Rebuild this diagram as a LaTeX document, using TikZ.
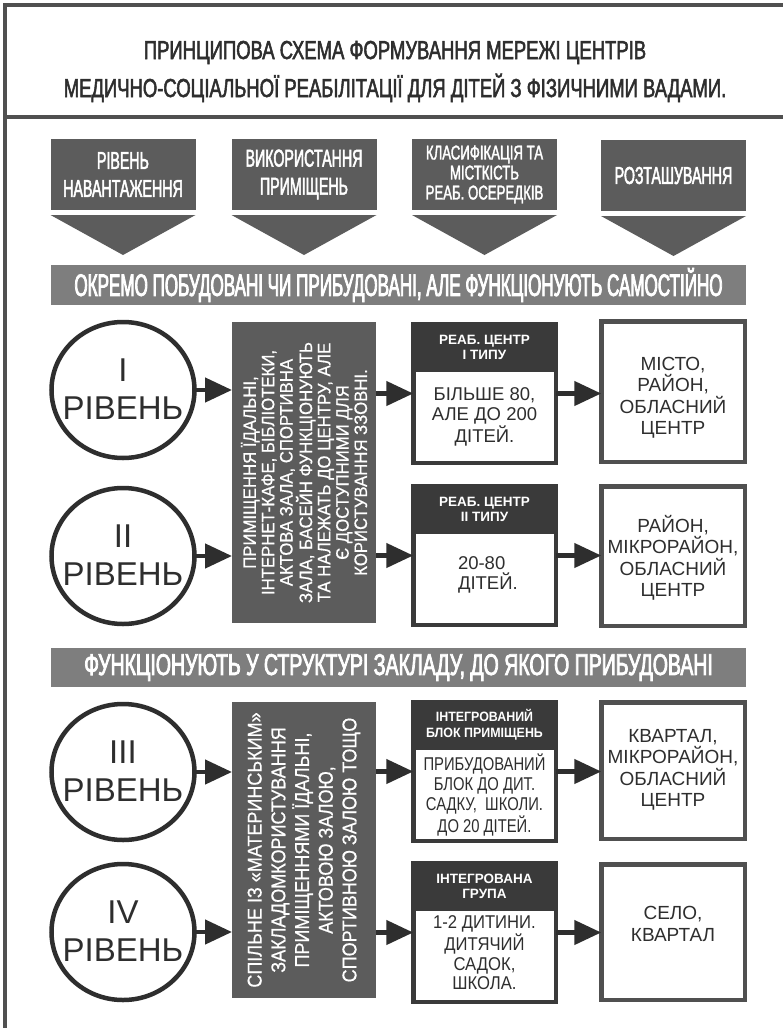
\documentclass[tikz,border=0pt]{standalone}
\usepackage{fontspec}
\setmainfont{Liberation Sans}
\usetikzlibrary{arrows.meta,shapes.geometric}
\definecolor{framec}{HTML}{505050}
\definecolor{hdrc}{HTML}{5C5C5C}
\definecolor{bandc}{HTML}{7E7E7E}
\definecolor{darkc}{HTML}{3A3A3A}
\definecolor{inkc}{HTML}{2E2E2E}
\definecolor{locc}{HTML}{505050}
\begin{document}
\begin{tikzpicture}[x=1pt,y=-1pt,
  every node/.style={inner sep=0pt,outer sep=0pt},
  titletext/.style={text=inkc,anchor=base,font=\fontsize{26}{30}\selectfont\addfontfeature{FakeStretch=0.71,FakeBold=2}},
  hdrbox/.style={fill=hdrc,text=white,minimum width=145,minimum height=71,align=center,
    font=\fontsize{24.5}{28}\selectfont\addfontfeature{FakeStretch=0.58,FakeBold=2}},
  bandbox/.style={fill=bandc,text=white,minimum width=695,minimum height=40},
  lvl/.style={ellipse,draw=inkc,line width=4.5pt,fill=white,minimum width=143,minimum height=136},
  lvltext/.style={align=center,text=inkc,font=\fontsize{33}{38}\selectfont},
  usebox/.style={fill=hdrc,text=white,rotate=90,minimum height=144,align=center},
  typebox/.style={draw=darkc,line width=4.5pt,fill=white,minimum width=142.5},
  typehead/.style={fill=darkc,text=white,minimum width=147,minimum height=50,anchor=north,align=center,
    font=\bfseries\fontsize{13.5}{15}\selectfont},
  typebody/.style={text=inkc,align=center,font=\fontsize{18.5}{20}\selectfont},
  locbox/.style={draw=locc,line width=4.5pt,fill=white,minimum width=143.5},
  loctext/.style={text=inkc,align=center,font=\fontsize{19}{21.5}\selectfont},
  arr/.style={draw=inkc,line width=4.5pt,-{Triangle[length=27pt,width=24pt]}}
]
\useasboundingbox (0,0) rectangle (783,1028);
\fill[white] (0,0) rectangle (783,1028);
% frame
\draw[framec,line width=4pt,line join=miter] (5,1030) -- (5,5) -- (785,5);
\draw[framec,line width=4pt] (5,117) -- (785,117);
% title
\node[titletext] (title1) at (395,59) {ПРИНЦИПОВА СХЕМА ФОРМУВАННЯ МЕРЕЖІ ЦЕНТРІВ};
\node[titletext] (title2) at (395,97) {МЕДИЧНО-СОЦІАЛЬНОЇ РЕАБІЛІТАЦІЇ ДЛЯ ДІТЕЙ З ФІЗИЧНИМИ ВАДАМИ.};
% column headers
\node[hdrbox] (h1) at (123,174.5) {РІВЕНЬ\\НАВАНТАЖЕННЯ};
\node[hdrbox] (h2) at (304,174.5) {ВИКОРИСТАННЯ\\ПРИМІЩЕНЬ};
\node[hdrbox,font=\fontsize{20}{20}\selectfont\addfontfeature{FakeStretch=0.66,FakeBold=1.8}] (h3) at (484.5,174.5) {КЛАСИФІКАЦІЯ ТА\\МІСТКІСТЬ\\РЕАБ. ОСЕРЕДКІВ};
\node[hdrbox] (h4) at (673.5,175.5) {РОЗТАШУВАННЯ};
\foreach \h in {h1,h2,h3,h4}{
  \fill[hdrc] ([yshift=-5pt]\h.south west) -- ([yshift=-5pt]\h.south east) -- ([yshift=-45pt]\h.south) -- cycle;
}
% bands
\node[bandbox,font=\fontsize{31}{36}\selectfont\addfontfeature{FakeStretch=0.55,FakeBold=2.5}] (b1) at (398.5,285)
  {ОКРЕМО ПОБУДОВАНІ ЧИ ПРИБУДОВАНІ, АЛЕ ФУНКЦІОНУЮТЬ САМОСТІЙНО};
\node[bandbox,minimum height=39,font=\fontsize{30}{36}\selectfont\addfontfeature{FakeStretch=0.65,FakeBold=2.5}] (b2) at (398.5,667.5)
  {ФУНКЦІОНУЮТЬ У СТРУКТУРІ ЗАКЛАДУ, ДО ЯКОГО ПРИБУДОВАНІ};
% levels
\node[lvl] (c1) at (123,390) {};
\node[lvl] (c2) at (123,556) {};
\node[lvl] (c3) at (123,772) {};
\node[lvl] (c4) at (123,932) {};
\node[lvltext] (c1t) at (123,389) {I\\РІВЕНЬ};
\node[lvltext] (c2t) at (123,555) {II\\РІВЕНЬ};
\node[lvltext] (c3t) at (123,771) {III\\РІВЕНЬ};
\node[lvltext] (c4t) at (123,931) {IV\\РІВЕНЬ};
% use of premises (rotated: north = left side, south = right side)
\node[usebox,minimum width=301,font=\fontsize{18}{18.3}\selectfont\addfontfeature{FakeStretch=0.93,FakeBold=0.6}] (u1) at (304,472.5)
  {ПРИМІЩЕННЯ ЇДАЛЬНІ,\\ІНТЕРНЕТ-КАФЕ, БІБЛІОТЕКИ,\\АКТОВА ЗАЛА, СПОРТИВНА\\ЗАЛА, БАСЕЙН ФУНКЦІОНУЮТЬ\\ТА НАЛЕЖАТЬ ДО ЦЕНТРУ, АЛЕ\\Є ДОСТУПНИМИ ДЛЯ\\КОРИСТУВАННЯ ЗЗОВНІ.};
\node[usebox,minimum width=296,font=\fontsize{20}{23.7}\selectfont\addfontfeature{FakeStretch=0.9,FakeBold=0.6}] (u2) at (304,850)
  {СПІЛЬНЕ ІЗ «МАТЕРИНСЬКИМ»\\ЗАКЛАДОМКОРИСТУВАННЯ\\ПРИМІЩЕННЯМИ ЇДАЛЬНІ,\\АКТОВОЮ ЗАЛОЮ,\\СПОРТИВНОЮ ЗАЛОЮ ТОЩО};
% type boxes
\node[typebox,minimum height=138.5] (t1) at (484.5,393.5) {};
\node[typebox,minimum height=138.5] (t2) at (484.5,555.5) {};
\node[typebox,minimum height=138.5] (t3) at (484.5,771.5) {};
\node[typebox,minimum height=138.5] (t4) at (484.5,932.5) {};
\node[typehead] (t1h) at ([yshift=2.25pt]t1.north) {РЕАБ. ЦЕНТР\\І ТИПУ};
\node[typehead] (t2h) at ([yshift=2.25pt]t2.north) {РЕАБ. ЦЕНТР\\ІІ ТИПУ};
\node[typehead,font=\bfseries\fontsize{13.5}{16}\selectfont\addfontfeature{FakeStretch=0.92}] (t3h) at ([yshift=2.25pt]t3.north) {ІНТЕГРОВАНИЙ\\БЛОК ПРИМІЩЕНЬ};
\node[typehead] (t4h) at ([yshift=2.25pt]t4.north) {ІНТЕГРОВАНА\\ГРУПА};
\node[typebody] (t1b) at (484.5,417) {БІЛЬШЕ 80,\\АЛЕ ДО 200\\ДІТЕЙ.};
\node[typebody,text width=58pt,align=left] (t2b) at (487,575) {20-80\\ДІТЕЙ.};
\node[typebody,font=\fontsize{18.5}{20}\selectfont\addfontfeature{FakeStretch=0.8}] (t3b) at (484.5,795) {ПРИБУДОВАНИЙ\\БЛОК ДО ДИТ.\\САДКУ,~ ШКОЛИ.\\ДО 20 ДІТЕЙ.};
\node[typebody,font=\fontsize{18.5}{19.7}\selectfont\addfontfeature{FakeStretch=0.9}] (t4b) at (484.5,953) {1-2 ДИТИНИ.\\ДИТЯЧИЙ\\САДОК,\\ШКОЛА.};
% location boxes
\node[locbox,minimum height=140.5] (l1) at (673,391.5) {};
\node[locbox,minimum height=139.5] (l2) at (673,556) {};
\node[locbox,minimum height=136.5] (l3) at (673,770.5) {};
\node[locbox,minimum height=135.5] (l4) at (673,932) {};
\node[loctext] (l1t) at (673,398) {МІСТО,\\РАЙОН,\\ОБЛАСНИЙ\\ЦЕНТР};
\node[loctext] (l2t) at (673,558) {РАЙОН,\\МІКРОРАЙОН,\\ОБЛАСНИЙ\\ЦЕНТР};
\node[loctext] (l3t) at (673,770) {КВАРТАЛ,\\МІКРОРАЙОН,\\ОБЛАСНИЙ\\ЦЕНТР};
\node[loctext] (l4t) at (673,924) {СЕЛО,\\КВАРТАЛ};
% arrows
\draw[arr] (c1.east) -- (c1.east -| u1.north);
\draw[arr] (c2.east) -- (c2.east -| u1.north);
\draw[arr] (c3.east) -- (c3.east -| u2.north);
\draw[arr] (c4.east) -- (c4.east -| u2.north);
\draw[arr] (u1.south |- t1.west) -- (t1.west);
\draw[arr] (u1.south |- t2.west) -- (t2.west);
\draw[arr] (u2.south |- t3.west) -- (t3.west);
\draw[arr] (u2.south |- t4.west) -- (t4.west);
\draw[arr] (t1.east) -- (l1.west |- t1.east);
\draw[arr] (t2.east) -- (l2.west |- t2.east);
\draw[arr] (t3.east) -- (l3.west |- t3.east);
\draw[arr] (t4.east) -- (l4.west |- t4.east);
\end{tikzpicture}
\end{document}
